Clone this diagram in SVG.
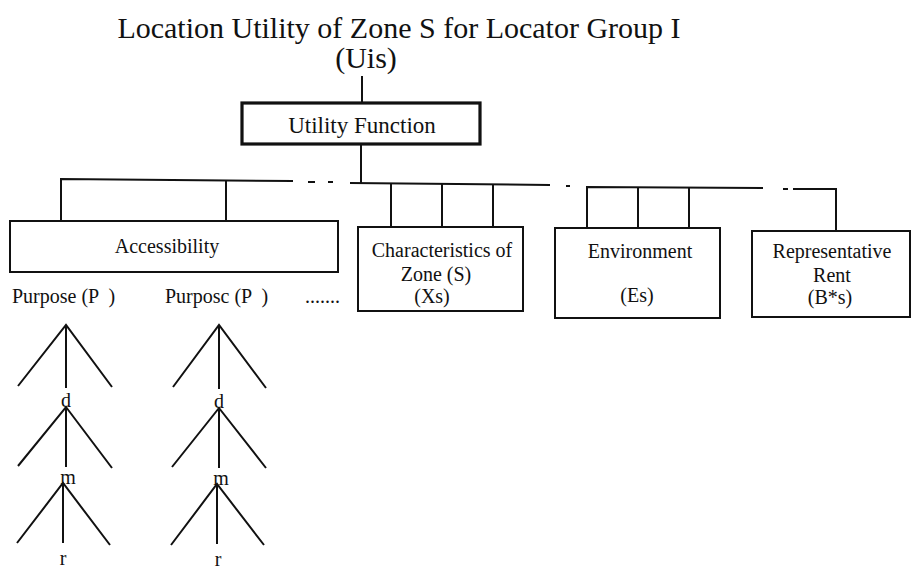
<svg xmlns="http://www.w3.org/2000/svg" width="912" height="569" viewBox="0 0 912 569">
  <style>
    text { font-family: "Liberation Serif", "Times New Roman", serif; fill: #111; }
    .title { font-size: 30px; }
    .lbl { font-size: 20px; }
    .uf { font-size: 23px; }
    .box { fill: #fff; stroke: #111; stroke-width: 2; }
    .boxb { fill: #fff; stroke: #111; stroke-width: 3.2; }
    .ln { fill: none; stroke: #111; stroke-width: 2; stroke-linecap: butt; }
    .pre { white-space: pre; }
  </style>
  <rect width="912" height="569" fill="#fff"/>

  <!-- heading -->
  <g id="title">
    <text class="title" x="399" y="38" text-anchor="middle">Location Utility of Zone S for Locator Group I</text>
    <text class="title" x="366" y="68" text-anchor="middle">(Uis)</text>
  </g>

  <!-- connectors -->
  <g id="connectors" class="ln">
    <path d="M362,76 V104"/>
    <path d="M361,144 V183"/>
    <!-- left branch to Accessibility -->
    <path d="M61,221 V179 L293,181"/>
    <path d="M226,181 V221"/>
    <path d="M308,182 H315 M328,182 H333"/>
    <!-- branch to zone characteristics -->
    <path d="M350,183 L550,185"/>
    <path d="M391,183.4 V227 M442,184 V227 M493,184.5 V227"/>
    <path d="M566,186 H570"/>
    <!-- branch to environment -->
    <path d="M587,228 V187 L763,188"/>
    <path d="M638,187.3 V228 M689,187.7 V228"/>
    <path d="M783,189 H788"/>
    <!-- branch to rent -->
    <path d="M793,189 H836 V231"/>
  </g>

  <g id="utility-function">
    <rect class="boxb" x="242" y="103" width="238" height="41"/>
    <text class="uf" x="362" y="133" text-anchor="middle">Utility Function</text>
  </g>

  <g id="accessibility">
    <rect class="box" x="10" y="221" width="328" height="51"/>
    <text class="lbl" x="167" y="253" text-anchor="middle">Accessibility</text>
  </g>

  <g id="zone-characteristics">
    <rect class="box" x="358" y="227" width="165" height="84"/>
    <text class="lbl" x="442" y="257" text-anchor="middle">Characteristics of</text>
    <text class="lbl" x="436" y="281" text-anchor="middle">Zone (S)</text>
    <text class="lbl" x="432" y="303" text-anchor="middle">(Xs)</text>
  </g>

  <g id="environment">
    <rect class="box" x="555" y="228" width="165" height="90"/>
    <text class="lbl" x="640" y="258" text-anchor="middle">Environment</text>
    <text class="lbl" x="637" y="302" text-anchor="middle">(Es)</text>
  </g>

  <g id="representative-rent">
    <rect class="box" x="752" y="231" width="158" height="86"/>
    <text class="lbl" x="832" y="258" text-anchor="middle">Representative</text>
    <text class="lbl" x="832" y="282" text-anchor="middle">Rent</text>
    <text class="lbl" x="830" y="304" text-anchor="middle">(B*s)</text>
  </g>

  <!-- purpose trees under accessibility -->
  <g id="purpose-1">
    <text class="lbl pre" x="12" y="303">Purpose (P  )</text>
    <path class="ln" d="M18,386 L66,325 L112,387 M66,325 V388"/>
    <text class="lbl" x="66" y="407" text-anchor="middle">d</text>
    <path class="ln" d="M18,466 L66,407 L112,468 M66,407 V467"/>
    <text class="lbl" x="68" y="484" text-anchor="middle">m</text>
    <path class="ln" d="M17,543 L63,483 L110,545 M63,483 V543"/>
    <text class="lbl" x="63" y="565" text-anchor="middle">r</text>
  </g>

  <g id="purpose-2">
    <text class="lbl pre" x="165" y="303">Purposc (P  )</text>
    <path class="ln" d="M173,387 L219,325 L266,388 M219,325 V389"/>
    <text class="lbl" x="219" y="408" text-anchor="middle">d</text>
    <path class="ln" d="M172,467 L219,408 L266,468 M219,408 V468"/>
    <text class="lbl" x="221" y="485" text-anchor="middle">m</text>
    <path class="ln" d="M171,545 L217,484 L264,545 M217,484 V544"/>
    <text class="lbl" x="218" y="566" text-anchor="middle">r</text>
  </g>

  <g id="more-purposes">
    <text class="lbl" x="305" y="303">.......</text>
  </g>
</svg>
